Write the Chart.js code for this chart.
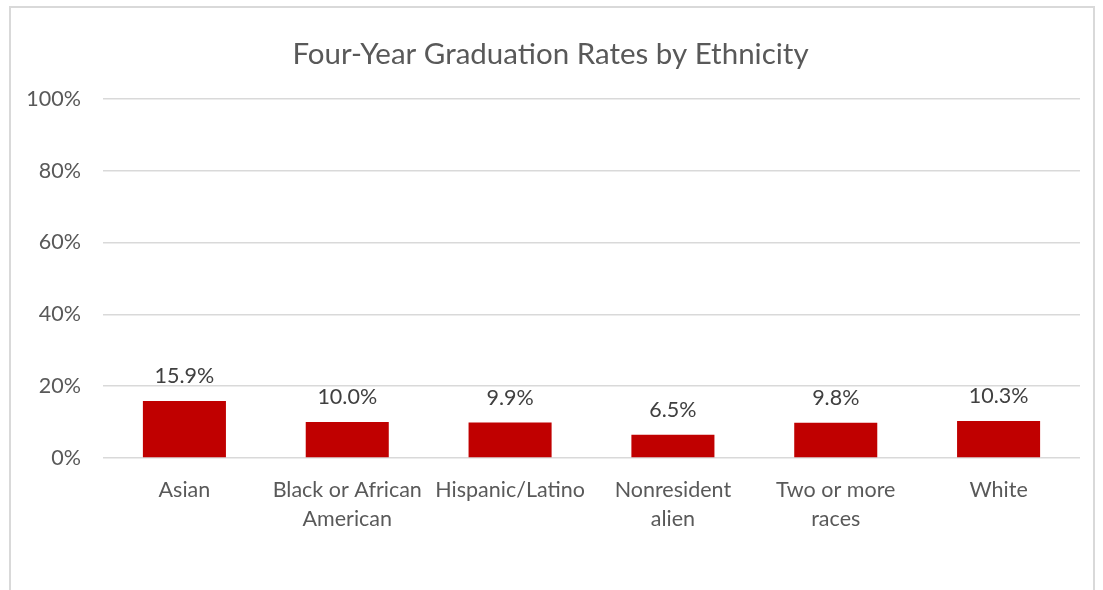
<!DOCTYPE html>
<html>
<head>
<meta charset="utf-8">
<script src="https://cdn.jsdelivr.net/npm/chart.js@4.4.1/dist/chart.umd.min.js"></script>
<style>
    html, body { margin: 0; padding: 0; background: #fff; overflow: hidden; }
    #frame {
        position: absolute; left: 9px; top: 6px; width: 1086px; height: 700px;
        border: 2px solid #d9d9d9; box-sizing: border-box;
    }
    #wrap { position: absolute; left: 0; top: 0; width: 1103px; height: 590px; }
</style>
</head>
<body>
<div id="frame"></div>
<div id="wrap"><canvas id="barChart"></canvas></div>
<script>
const categories = ['Asian', ['Black or African', 'American'], 'Hispanic/Latino', ['Nonresident', 'alien'], ['Two or more', 'races'], 'White'];
const rates = [15.9, 10.0, 9.9, 6.5, 9.8, 10.3];
const yTicks = [0, 20, 40, 60, 80, 100];

const fontFamily = 'Lato, "Open Sans", sans-serif';

// draws the value above each bar
const barLabels = {
    id: 'barLabels',
    afterDatasetsDraw(chart) {
        const ctx = chart.ctx;
        const meta = chart.getDatasetMeta(0);
        ctx.save();
        ctx.font = '21.5px ' + fontFamily;
        ctx.fillStyle = '#404040';
        ctx.textAlign = 'center';
        ctx.textBaseline = 'bottom';
        meta.data.forEach((bar, i) => {
            ctx.fillText(rates[i].toFixed(1) + '%', bar.x, bar.y - 14);
        });
        ctx.restore();
    }
};

const ctx = document.getElementById('barChart').getContext('2d');
new Chart(ctx, {
    type: 'bar',
    data: {
        labels: categories,
        datasets: [{
            label: 'Four-Year Graduation Rate',
            data: rates,
            backgroundColor: '#c00000',
            barPercentage: 0.51,
            categoryPercentage: 1
        }]
    },
    options: {
        responsive: true,
        maintainAspectRatio: false,
        animation: false,
        layout: { padding: { left: 21, right: 23, top: 0, bottom: 0 } },
        plugins: {
            legend: { display: false },
            tooltip: { enabled: false },
            title: {
                display: true,
                text: 'Four-Year Graduation Rates by Ethnicity',
                color: '#595959',
                font: { family: fontFamily, size: 29.5, weight: 'normal' },
                padding: { top: 37, bottom: 26.5 }
            }
        },
        scales: {
            x: {
                grid: { display: false },
                border: { display: false },
                ticks: {
                    color: '#595959',
                    font: { family: fontFamily, size: 21.5, lineHeight: 1.35 },
                    padding: 10,
                    maxRotation: 0,
                    autoSkip: false
                },
                afterFit(scale) { scale.height = 132; }
            },
            y: {
                min: 0,
                max: 100,
                afterBuildTicks(scale) { scale.ticks = yTicks.map(v => ({ value: v })); },
                grid: { color: '#d9d9d9', lineWidth: 1.5, drawTicks: false },
                border: { display: false },
                ticks: {
                    color: '#595959',
                    font: { family: fontFamily, size: 21.5 },
                    padding: 22,
                    callback: v => v + '%'
                },
                afterFit(scale) { scale.width = 82; }
            }
        }
    },
    plugins: [barLabels]
});
</script>
</body>
</html>
